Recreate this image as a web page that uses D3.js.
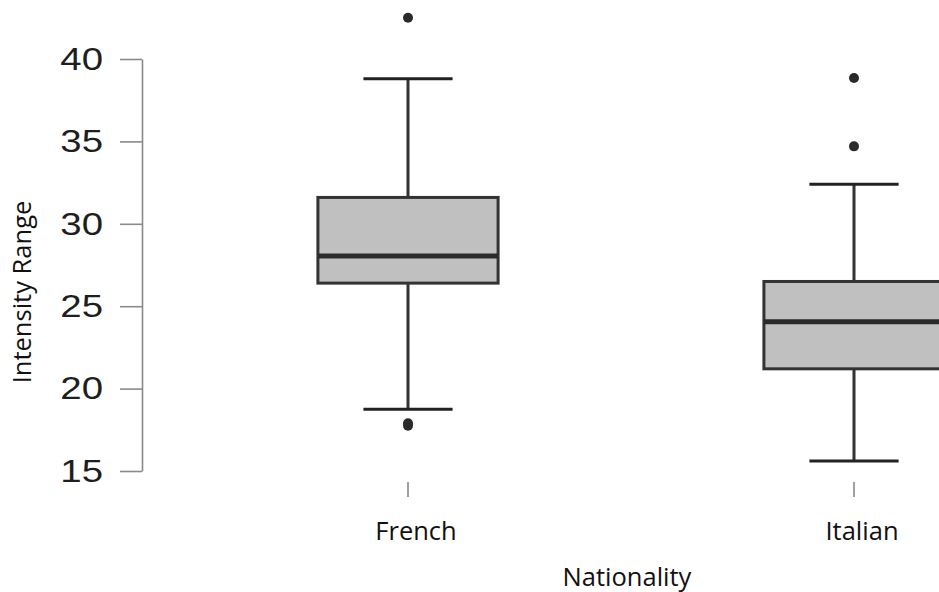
<!DOCTYPE html>
<html>
<head>
<meta charset="utf-8">
<script src="https://cdn.jsdelivr.net/npm/d3@7"></script>
<style>
  body { margin: 0; background: #fff; }
  svg { display: block; }
</style>
</head>
<body>
<script>
// box plot values
var categories = ["French", "Italian"];
var q1 = [26.4, 21.2];
var medians = [28.05, 24.05];
var q3 = [31.6, 26.5];
var whiskerLow = [18.75, 15.6];
var whiskerHigh = [38.8, 32.4];
var outliers = [[42.5, 17.9, 17.75], [38.85, 34.7]];
var yTicks = [15, 20, 25, 30, 35, 40];

var width = 939;
var height = 592;

var svg = d3.select("body")
            .append("svg")
            .attr("width", width)
            .attr("height", height);

// scales
var y = d3.scaleLinear()
          .domain([15, 40])
          .range([471, 59]);

var x = d3.scaleBand()
          .domain(categories)
          .range([185, 1077])
          .padding(0);

var boxW = x.bandwidth() * 0.404;
var capW = x.bandwidth() * 0.2;

// y axis
var labelStretch = 1.2;   // tick digits in the picture are drawn wide
var yAxis = svg.append("g")
               .attr("transform", "translate(142,0)")
               .call(d3.axisLeft(y)
                       .tickValues(yTicks)
                       .tickSize(22)
                       .tickSizeOuter(0)
                       .tickPadding(10.5));
yAxis.select(".domain").attr("stroke", "#8a8a8a").attr("stroke-width", 1.6);
yAxis.selectAll(".tick line").attr("stroke", "#8a8a8a").attr("stroke-width", 1.6);
yAxis.selectAll(".tick text")
     .attr("fill", "#1e1e1e")
     .attr("transform", "scale(" + labelStretch + ",1)")
     .style("font-family", "'Liberation Sans', Arial, sans-serif")
     .style("font-size", "32px");

// x axis (small tick marks only, labels placed below)
var xAxis = svg.append("g")
               .attr("transform", "translate(0,482)")
               .call(d3.axisBottom(x).tickSize(15).tickSizeOuter(0).tickPadding(25));
xAxis.select(".domain").remove();
xAxis.selectAll(".tick line").attr("stroke", "#8a8a8a").attr("stroke-width", 1.6);
xAxis.selectAll(".tick text")
     .attr("fill", "#111")
     .attr("dx", 8)
     .style("font-family", "'Open Sans', sans-serif")
     .style("font-size", "25.5px");

// boxes
var groups = svg.selectAll("g.box")
                .data(categories)
                .enter()
                .append("g")
                .attr("class", "box");

// whisker stems
groups.append("line")
      .attr("x1", function(d) { return x(d) + x.bandwidth() / 2; })
      .attr("x2", function(d) { return x(d) + x.bandwidth() / 2; })
      .attr("y1", function(d, i) { return y(whiskerHigh[i]); })
      .attr("y2", function(d, i) { return y(whiskerLow[i]); })
      .attr("stroke", "#333")
      .attr("stroke-width", 3);

// whisker caps
[whiskerHigh, whiskerLow].forEach(function(arr) {
    groups.append("line")
          .attr("x1", function(d) { return x(d) + x.bandwidth() / 2 - capW / 2; })
          .attr("x2", function(d) { return x(d) + x.bandwidth() / 2 + capW / 2; })
          .attr("y1", function(d, i) { return y(arr[i]); })
          .attr("y2", function(d, i) { return y(arr[i]); })
          .attr("stroke", "#222")
          .attr("stroke-width", 3);
});

// box rectangles
groups.append("rect")
      .attr("x", function(d) { return x(d) + x.bandwidth() / 2 - boxW / 2; })
      .attr("y", function(d, i) { return y(q3[i]); })
      .attr("width", boxW)
      .attr("height", function(d, i) { return y(q1[i]) - y(q3[i]); })
      .attr("fill", "#c0c0c0")
      .attr("stroke", "#333")
      .attr("stroke-width", 3);

// medians
groups.append("line")
      .attr("x1", function(d) { return x(d) + x.bandwidth() / 2 - boxW / 2; })
      .attr("x2", function(d) { return x(d) + x.bandwidth() / 2 + boxW / 2; })
      .attr("y1", function(d, i) { return y(medians[i]); })
      .attr("y2", function(d, i) { return y(medians[i]); })
      .attr("stroke", "#2a2a2a")
      .attr("stroke-width", 5);

// outliers
groups.each(function(d, i) {
    d3.select(this).selectAll("circle")
      .data(outliers[i])
      .enter()
      .append("circle")
      .attr("cx", x(d) + x.bandwidth() / 2)
      .attr("cy", function(v) { return y(v); })
      .attr("r", 5)
      .attr("fill", "#2a2a2a");
});

// axis titles
svg.append("text")
   .attr("transform", "translate(31,292) rotate(-90)")
   .attr("text-anchor", "middle")
   .attr("fill", "#111")
   .style("font-family", "'Open Sans', sans-serif")
   .style("font-size", "25.5px")
   .text("Intensity Range");

svg.append("text")
   .attr("x", 627)
   .attr("y", 586)
   .attr("text-anchor", "middle")
   .attr("fill", "#111")
   .style("font-family", "'Open Sans', sans-serif")
   .style("font-size", "25.5px")
   .text("Nationality");
</script>
</body>
</html>
